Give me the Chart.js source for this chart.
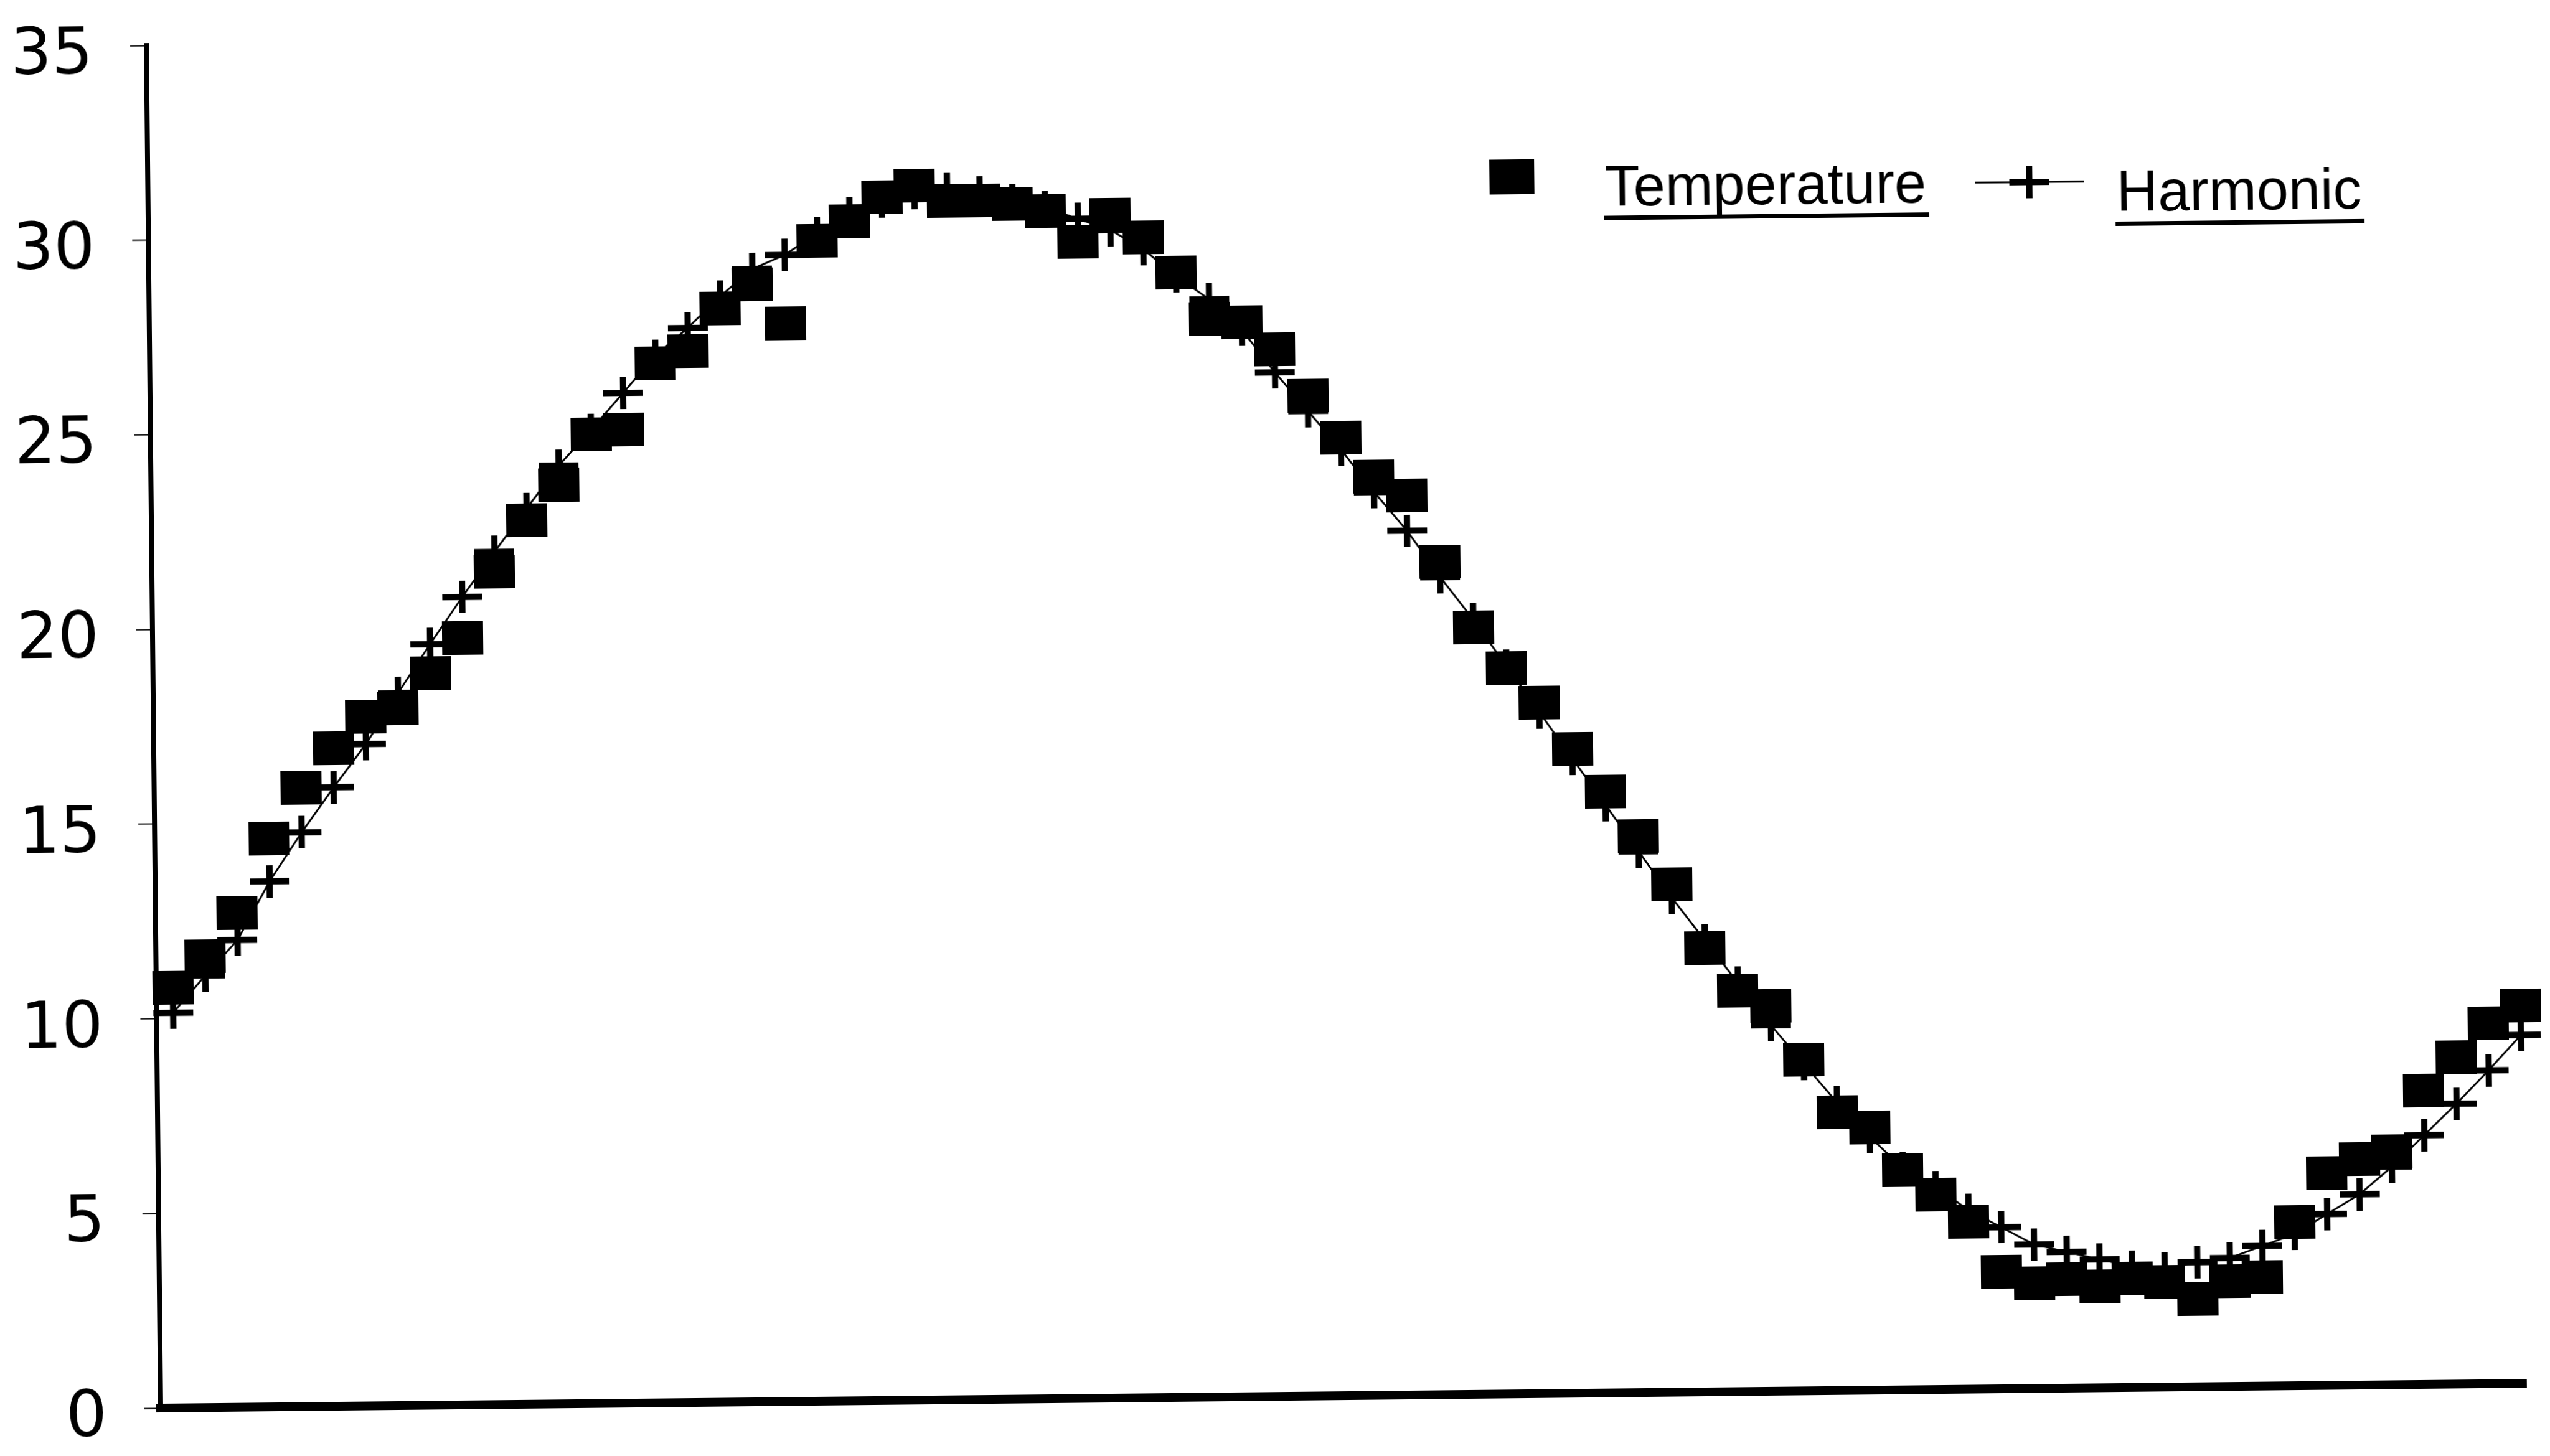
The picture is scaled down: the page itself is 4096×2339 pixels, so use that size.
<!DOCTYPE html>
<html>
<head>
<meta charset="utf-8">
<title>Temperature and harmonic</title>
<script src="https://cdn.jsdelivr.net/npm/chart.js@4.4.1/dist/chart.umd.min.js"></script>
<style>
  html, body { margin: 0; padding: 0; background: #fff; overflow: hidden; }
  /* the scanned original sits a little crooked on the page */
  #wrap { position: absolute; left: 0; top: 0; width: 4096px; height: 2339px;
          transform: rotate(-0.6deg); transform-origin: 258px 2262px; }
</style>
</head>
<body>
<div id="wrap"><canvas id="chart" width="4096" height="2339"></canvas></div>
<script>
// sample number along the year (no labels on the x axis)
var samples = [1, 2, 3, 4, 5, 6, 7, 8, 9, 10,
  11, 12, 13, 14, 15, 16, 17, 18, 19, 20,
  21, 22, 23, 24, 25, 26, 27, 28, 29, 30,
  31, 32, 33, 34, 35, 36, 37, 38, 39, 40,
  41, 42, 43, 44, 45, 46, 47, 48, 49, 50,
  51, 52, 53, 54, 55, 56, 57, 58, 59, 60,
  61, 62, 63, 64, 65, 66, 67, 68, 69, 70,
  71, 72, 73];

var temperature = [10.8, 11.6, 12.7, 14.6, 15.9, 16.9, 17.7, 17.9, 18.8, 19.7,
  21.4, 22.7, 23.6, 24.9, 25.0, 26.7, 27.0, 28.1, 28.7, 27.7,
  29.8, 30.3, 30.9, 31.2, 30.8, 30.8, 30.7, 30.5, 29.7, 30.4,
  29.8, 28.9, 27.7, 27.6, 26.9, 25.7, 24.6, 23.6, 23.1, 21.4,
  19.7, 18.65, 17.75, 16.55, 15.45, 14.3, 13.05, 11.4, 10.3, 9.9,
  8.5, 7.15, 6.75, 5.65, 5.0, 4.3, 3.0, 2.7, 2.8, 2.6,
  2.8, 2.7, 2.25, 2.7, 2.8, 4.2, 5.45, 5.8, 6.0, 7.55,
  8.4, 9.25, 9.7];

var harmonic = [10.15, 11.1, 12.0, 13.5, 14.75, 15.9, 17.0, 18.3, 19.55, 20.75,
  21.9, 23.0, 24.1, 25.0, 25.95, 26.9, 27.6, 28.4, 29.1, 29.45,
  30.0, 30.5, 30.8, 31.0, 31.1, 31.0, 30.8, 30.6, 30.3, 30.0,
  29.5, 28.8, 28.2, 27.4, 26.3, 25.3, 24.3, 23.2, 22.2, 21.0,
  19.9, 18.7, 17.5, 16.3, 15.1, 13.9, 12.7, 11.6, 10.5, 9.4,
  8.4, 7.4, 6.5, 5.7, 5.2, 4.6, 4.15, 3.7, 3.5, 3.3,
  3.1, 3.05, 3.2, 3.3, 3.6, 3.9, 4.4, 4.9, 5.6, 6.4,
  7.2, 8.05, 8.95];

var seriesNames = ['Temperature', 'Harmonic'];
var yMin = 0, yMax = 35, yStep = 5;

// marker glyphs, drawn once and handed to chart.js as point styles
function squareMark(w, h) {
  var c = document.createElement('canvas');
  c.width = w; c.height = h;
  var g = c.getContext('2d');
  g.fillStyle = '#000';
  g.fillRect(0, 0, w, h);
  return c;
}

function crossMark(w, h, t) {
  var c = document.createElement('canvas');
  c.width = w; c.height = h;
  var g = c.getContext('2d');
  g.fillStyle = '#000';
  g.fillRect(0, Math.round((h - t) / 2), w, t);
  g.fillRect(Math.round((w - t) / 2), 0, t, h);
  return c;
}

var boxMark = squareMark(66, 54);
var plusMark = crossMark(64, 52, 10);

function points(values) {
  return samples.map(function(s, i) { return {x: s, y: values[i]}; });
}

// legend sits inside the plot, top right, labels underlined
var legendInPlot = {
  id: 'legendInPlot',
  afterDraw: function(chart) {
    var ctx = chart.ctx;
    var sets = chart.data.datasets;
    ctx.save();
    ctx.fillStyle = '#000';
    ctx.strokeStyle = '#000';
    ctx.font = '92px "Liberation Sans"';
    ctx.textBaseline = 'alphabetic';

    ctx.drawImage(boxMark, 2449 - 36, 307 - 28, 72, 56);
    ctx.fillText(sets[0].label, 2598, 355);
    var w0 = ctx.measureText(sets[0].label).width;
    ctx.fillRect(2596, 371, w0 + 6, 7);

    ctx.lineWidth = 3;
    ctx.beginPath();
    ctx.moveTo(3193, 324);
    ctx.lineTo(3368, 324);
    ctx.stroke();
    ctx.drawImage(plusMark, 3280 - 32, 324 - 26);
    ctx.fillText(sets[1].label, 3420, 372);
    var w1 = ctx.measureText(sets[1].label).width;
    ctx.fillRect(3418, 389, w1 + 6, 7);
    ctx.restore();
  }
};

var chart = new Chart(document.getElementById('chart'), {
  type: 'scatter',
  data: {
    datasets: [{
      label: seriesNames[0],
      data: points(temperature),
      pointStyle: boxMark,
      pointRadius: 5,
      showLine: false,
      clip: false
    }, {
      label: seriesNames[1],
      data: points(harmonic),
      pointStyle: plusMark,
      pointRadius: 5,
      showLine: true,
      borderColor: '#000',
      borderWidth: 3,
      clip: false
    }]
  },
  options: {
    responsive: false,
    animation: false,
    devicePixelRatio: 1,
    layout: {padding: {top: 73, right: 38, bottom: 0, left: 0}},
    plugins: {legend: {display: false}, tooltip: {enabled: false}},
    scales: {
      x: {
        type: 'linear',
        min: 0.49,
        max: 73.05,
        ticks: {display: false},
        grid: {display: false, drawTicks: false},
        border: {display: true, color: '#000', width: 14},
        afterFit: function(s) { s.height = 77; s.paddingLeft = 0; s.paddingRight = 0; }
      },
      y: {
        min: yMin,
        max: yMax,
        ticks: {
          stepSize: yStep,
          color: '#000',
          padding: 60,
          font: {family: 'DejaVu Sans', size: 104, lineHeight: '34px'},
          callback: function(v) { return ['', String(v)]; }
        },
        grid: {drawOnChartArea: false, tickLength: 26, tickWidth: 2, color: '#000'},
        border: {color: '#000', width: 8},
        afterFit: function(s) { s.width = 258; s.paddingTop = 0; s.paddingBottom = 0; }
      }
    }
  },
  plugins: [legendInPlot]
});
</script>
</body>
</html>
